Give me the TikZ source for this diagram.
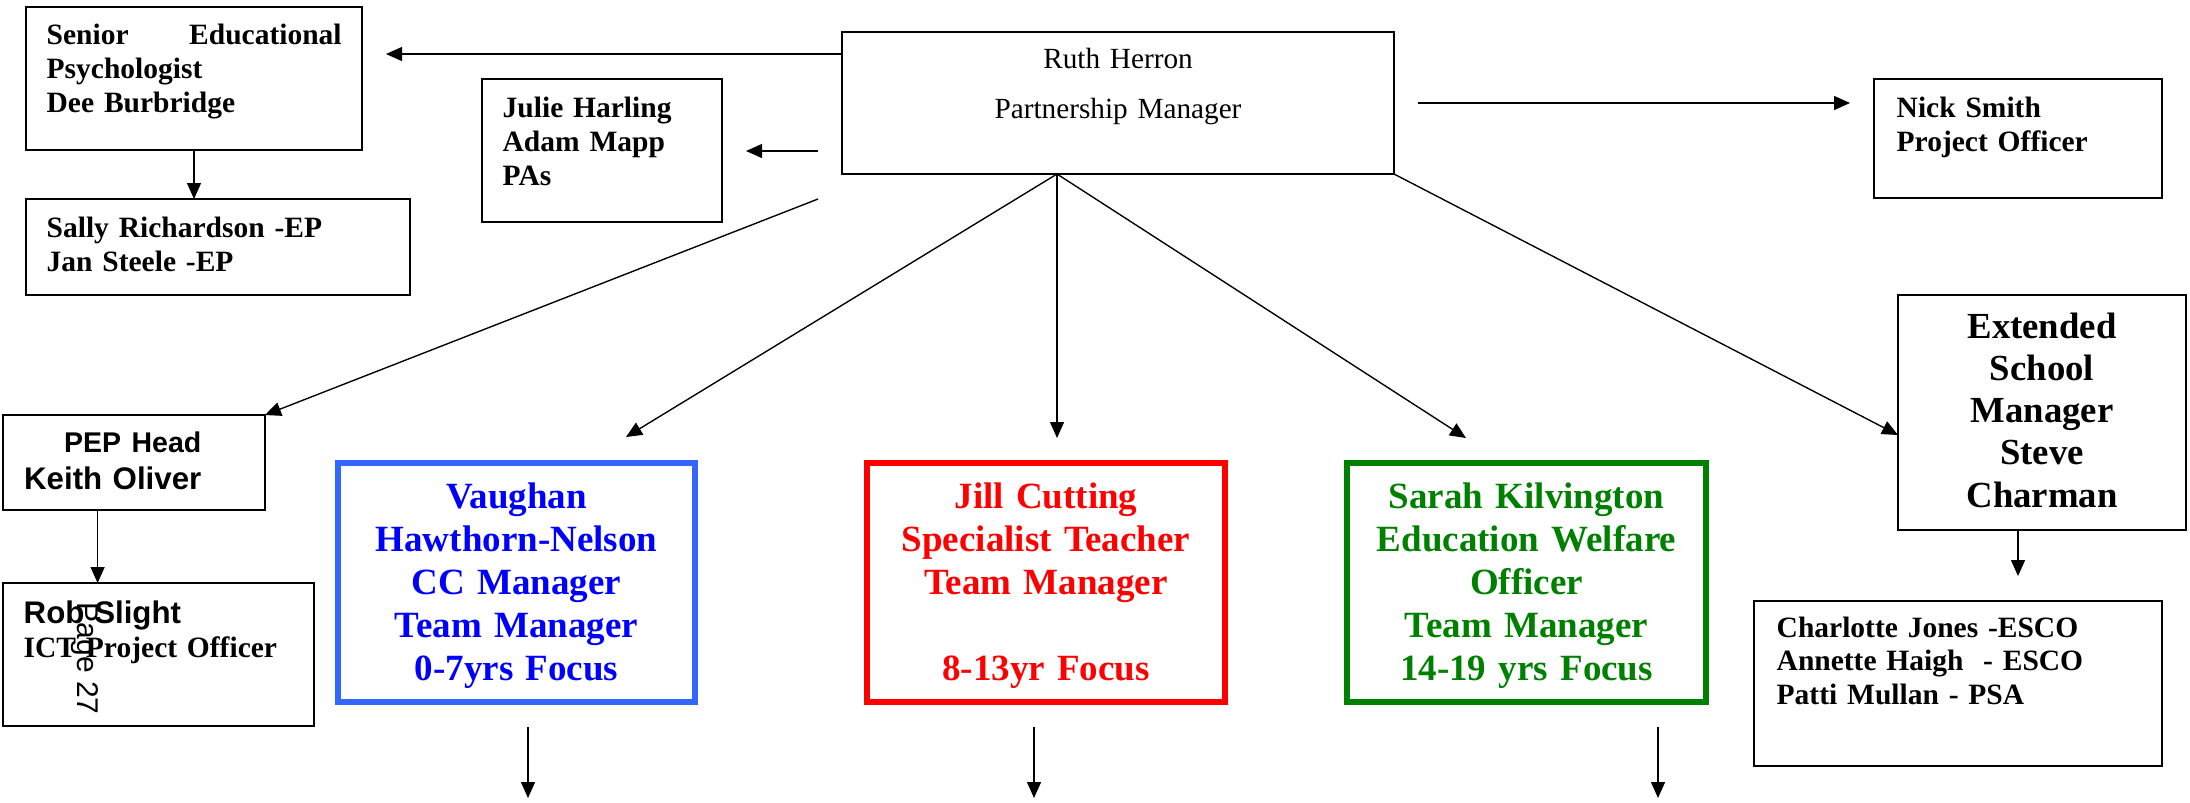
\documentclass[tikz,border=0pt]{standalone}
\usepackage{fontspec}
\setmainfont{Liberation Serif}
\setsansfont{Liberation Sans}
\usetikzlibrary{arrows.meta,fit}
\definecolor{ccblue}{HTML}{3366FF}
\definecolor{cctext}{HTML}{0000FF}
\definecolor{stred}{HTML}{FF0000}
\definecolor{ewogreen}{HTML}{008000}
\tikzset{
  box/.style={ % plain black box of the chart
    draw, rectangle, line width=0.75pt,
    inner sep=0pt, outer sep=0pt
  },
  teambox/.style={ % coloured box of a team manager
    draw=#1, rectangle, line width=2.1pt,
    inner sep=0pt, outer sep=0pt
  },
  names/.style={ % bold names, left aligned, first baseline at the node
    font=\fontsize{11.8}{13.6}\selectfont\bfseries,
    align=left, text width=#1, anchor=base west, inner sep=0pt
  },
  names/.default=170pt,
  teamtext/.style={ % big centred text of a team box
    font=\fontsize{14.8}{17.2}\selectfont\bfseries, text=#1,
    align=center, text width=142pt, anchor=base, inner sep=0pt
  }
}

\begin{document}
\begin{tikzpicture}[
      x=0.4pt, y=-0.4pt, line width=0.55pt,
      >={Triangle[length=6.4pt,width=5.6pt]}
    ]
      \useasboundingbox (0,0) rectangle (2190,802);

      % boxes
      \node[box, fit={(26,7) (362,150)}] (senior) {};
      \node[box, fit={(26,199) (410,295)}] (sally) {};
      \node[box, fit={(482,79) (722,222)}] (julie) {};
      \node[box, fit={(842,32) (1394,174)}] (ruth) {};
      \node[box, fit={(1874,79) (2162,198)}] (nick) {};
      \node[box, fit={(3,415) (265,510)}] (pep) {};
      \node[box, fit={(3,583) (314,726)}] (rob) {};
      \node[teambox=ccblue, fit={(338,463) (695,702)}] (cc) {};
      \node[teambox=stred, fit={(867,463) (1225,702)}] (st) {};
      \node[teambox=ewogreen, fit={(1347,463) (1706,702)}] (ewo) {};
      \node[box, fit={(1898,295) (2186,530)}] (esm) {};
      \node[box, fit={(1754,601) (2162,766)}] (esco) {};

      % texts
      \node[names=118pt] (senior_text) at (46,44) {Senior\hfill Educational\\Psychologist\\Dee Burbridge};
      \node[names] (sally_text) at (46,237) {Sally Richardson -EP\\Jan Steele -EP};
      \node[names] (julie_text) at (502,117) {Julie Harling\\Adam Mapp\\PAs};
      \node[font=\fontsize{11.7}{20}\selectfont, align=center, text width=200pt,
            anchor=base, inner sep=0pt] (ruth_text) at (1118,68) {Ruth Herron\\Partnership Manager};
      \node[names] (nick_text) at (1896,117) {Nick Smith\\Project Officer};
      \node[font=\sffamily\bfseries\fontsize{12.5}{14.8}\selectfont, align=right, text width=80pt,
            anchor=base east, inner sep=0pt] (pep_text) at (202,452) {{\fontsize{11.4}{14.8}\selectfont PEP Head}\\Keith Oliver};
      \node[names] (rob_text) at (23,623) {{\sffamily\fontsize{12.5}{13.6}\selectfont Rob Slight}\\ICT Project Officer};
      \node[teamtext=cctext] (cc_text) at (516.5,508) {Vaughan\\Hawthorn-Nelson\\CC Manager\\Team Manager\\0-7yrs Focus};
      \node[teamtext=stred] (st_text) at (1046,508) {Jill Cutting\\Specialist Teacher\\Team Manager\\[17.2pt]8-13yr Focus};
      \node[teamtext=ewogreen] (ewo_text) at (1526.5,508) {Sarah Kilvington\\Education Welfare\\Officer\\Team Manager\\14-19 yrs Focus};
      \node[teamtext=black, font=\fontsize{14.7}{16.9}\selectfont\bfseries] (esm_text) at (2042,338) {Extended\\School\\Manager\\Steve\\Charman};
      \node[names, font=\fontsize{11.8}{13.4}\selectfont\bfseries] (esco_text) at (1776,637) {Charlotte Jones -ESCO\\Annette Haigh\ \ - ESCO\\Patti Mullan - PSA};
      \node[font=\sffamily\fontsize{12}{14}\selectfont, rotate=-90, anchor=base west,
            inner sep=0pt] (page_no) at (77,602) {Page 27};

      % connectors
      \coordinate (senior_in) at (386,54);
      \coordinate (pa_out) at (818,151);
      \coordinate (pa_in) at (746,151);
      \coordinate (nick_out) at (1418,103);
      \coordinate (nick_in) at (1850,103);
      \coordinate (pep_out) at (818,199);
      \coordinate (fan) at (1057,174);
      \coordinate (cc_in) at (626,437);
      \coordinate (st_in) at (1057,438);
      \coordinate (ewo_in) at (1466,438);
      \coordinate (esm_in) at (1898,435);
      \coordinate (esco_in) at (2018,576);
      \draw[->] (ruth.west |- senior_in) -- (senior_in);
      \draw[->] (pa_out) -- (pa_in);
      \draw[->] (nick_out) -- (nick_in);
      \draw[->] (senior.south) -- (senior.south |- sally.north);
      \draw[->] (pep_out) -- (pep.north east);
      \draw[->] (fan) -- (cc_in);
      \draw[->] (fan) -- (st_in);
      \draw[->] (fan) -- (ewo_in);
      \draw[->] (ruth.south east) -- (esm_in);
      \draw[->] (esm.south -| esco_in) -- (esco_in);
      \draw[->] (pep.south -| 97.6,0) -- (rob.north -| 97.6,0);
      \foreach \x/\n in {528/cc, 1034/st, 1658/ewo}
        \draw[->] (\n.south -| \x,0) ++(0,25) -- (\x,798);
\end{tikzpicture}
\end{document}
